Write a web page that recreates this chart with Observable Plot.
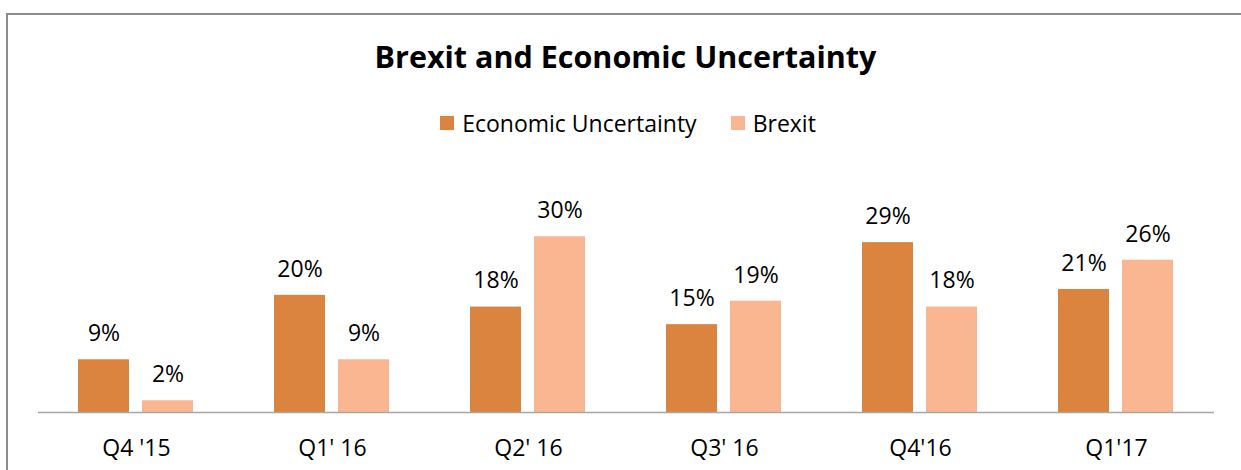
<!DOCTYPE html>
<html>
<head>
<meta charset="utf-8">
<script src="https://cdn.jsdelivr.net/npm/d3@7"></script>
<script src="https://cdn.jsdelivr.net/npm/@observablehq/plot@0.6"></script>
<style>
  html, body { margin: 0; padding: 0; background: #fff; }
  body { width: 1241px; height: 470px; position: relative; overflow: hidden; font-family: "Open Sans", sans-serif; }
  #frame { position: absolute; left: 6px; top: 13px; width: 1300px; height: 500px; border-top: 2px solid #8c8c8c; border-left: 2px solid #8c8c8c; }
  #title { position: absolute; left: 0; width: 1251px; top: 35px; text-align: center; font-weight: bold; font-size: 30.5px; line-height: 42px; color: #000; }
  #legend { position: absolute; left: 0; width: 1256px; top: 105px; text-align: center; font-size: 23px; line-height: 32px; color: #000; }
  .item { display: inline-flex; align-items: center; margin: 0 17px; }
  .sw { width: 14px; height: 14px; display: inline-block; margin-right: 8px; }
  #chart { position: absolute; left: 0; top: 150px; }
</style>
</head>
<body>
<div id="frame"></div>
<div id="title">Brexit and Economic Uncertainty</div>
<div id="legend"></div>
<div id="chart"></div>
<script>
const quarters = ["Q4 '15", "Q1' 16", "Q2' 16", "Q3' 16", "Q4'16", "Q1'17"];
const series = ["Economic Uncertainty", "Brexit"];
const economicUncertainty = [9, 20, 18, 15, 29, 21];
const brexit = [2, 9, 30, 19, 18, 26];
const colors = ["#DA843F", "#F9B691"];

const seriesValues = [economicUncertainty, brexit];
const data = [];
quarters.forEach((q, i) => {
  series.forEach((s, j) => data.push({ quarter: q, series: s, value: seriesValues[j][i] }));
});

const legend = document.getElementById("legend");
series.forEach((s, j) => {
  const it = document.createElement("span");
  it.className = "item";
  it.innerHTML = `<span class="sw" style="background:${colors[j]}"></span>${s}`;
  legend.appendChild(it);
});

const chart = Plot.plot({
  width: 1241,
  height: 320,
  marginLeft: 36,
  marginRight: 26,
  marginTop: 57,
  marginBottom: 58,
  style: { fontFamily: "Open Sans, sans-serif", fontSize: "23px", color: "#000", background: "transparent", overflow: "visible" },
  fx: { domain: quarters, padding: 0, label: null, tickSize: 0, tickPadding: 27, axis: "bottom" },
  x: { domain: series, paddingInner: 0.2, paddingOuter: 0.61, axis: null },
  y: { domain: [0, 35], axis: null },
  color: { domain: series, range: colors },
  marks: [
    Plot.barY(data, { fx: "quarter", x: "series", y: "value", fill: "series" }),
    Plot.text(data, { fx: "quarter", x: "series", y: "value", text: d => d.value + "%", dy: -26, lineAnchor: "middle", fontSize: 23, fill: "#000" }),
    Plot.ruleY([0], { stroke: "#a6a6a6", strokeWidth: 1.5 })
  ]
});
document.getElementById("chart").appendChild(chart);
</script>
</body>
</html>
